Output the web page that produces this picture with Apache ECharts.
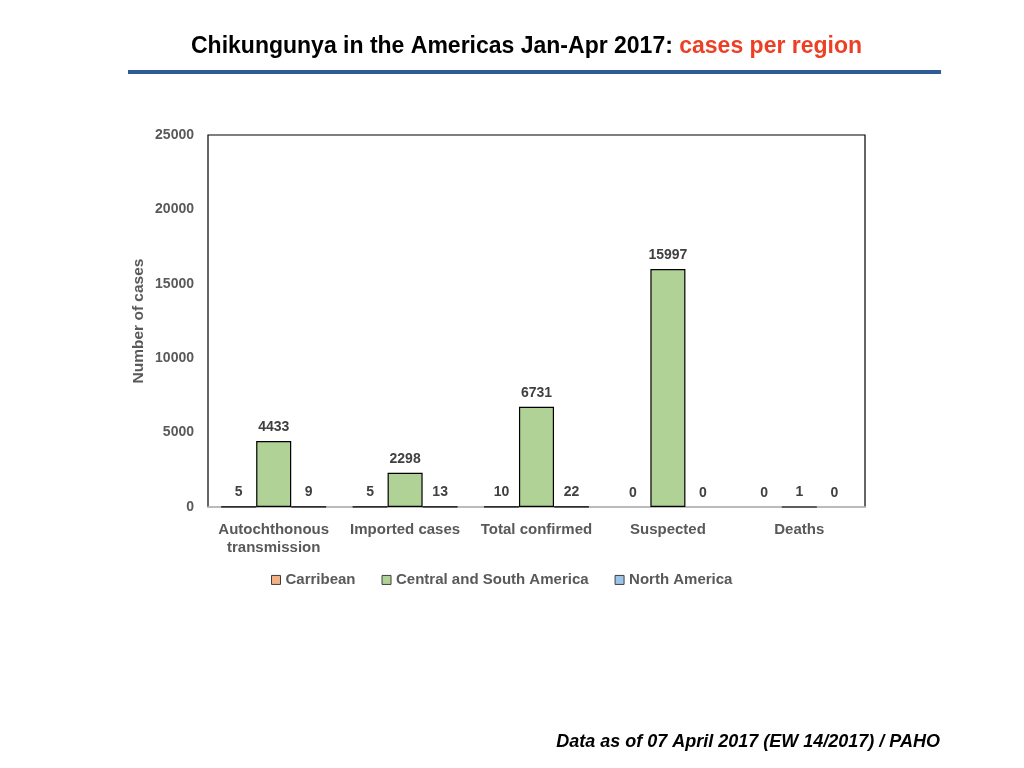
<!DOCTYPE html>
<html>
  <head>
    <title>Chikungunya in the Americas</title>
    <style>
      html, body {
        margin: 0;
        padding: 0;
        width: 100%;
        height: 100%;
        background: #fff;
      }
      #chart {
        width: 1024px;
        height: 768px;
      }
    </style>
  </head>
  <body>
    <div id="chart"></div>
    <script src="https://cdn.jsdelivr.net/npm/echarts@6/dist/echarts.min.js"></script>
    <script type="text/javascript">

      const categories = ['Autochthonous\ntransmission', 'Imported cases', 'Total confirmed', 'Suspected', 'Deaths'];
      const carribean = [5, 5, 10, 0, 0];
      const centralSouth = [4433, 2298, 6731, 15997, 1];
      const northAmerica = [9, 13, 22, 0, 0];

      const labelGray = '#595959';
      const font = '"Liberation Sans", Arial, sans-serif';

      // zero values get no outline, so nothing shows on the baseline
      const toItems = values => values.map(v => (
        v === 0 ? { value: v, itemStyle: { borderWidth: 0 } } : v
      ));

      const makeSeries = (name, values, color) => ({
        name: name,
        type: 'bar',
        data: toItems(values),
        barGap: '0%',
        barCategoryGap: '20%',
        itemStyle: { color: color, borderColor: '#000', borderWidth: 1.2 },
        label: {
          show: true,
          position: 'top',
          distance: 2,
          color: '#404040',
          fontFamily: font,
          fontWeight: 'bold',
          fontSize: 14
        }
      });

      const chart = echarts.init(document.getElementById('chart'));
      chart.setOption({
        animation: false,
        textStyle: { fontFamily: font },
        title: {
          left: 186,
          top: 22,
          text: '{a|Chikungunya in the Americas Jan-Apr 2017: }{b|cases per region}',
          textStyle: {
            rich: {
              a: { fontFamily: font, fontWeight: 'bold', fontSize: 23, color: '#000' },
              b: { fontFamily: font, fontWeight: 'bold', fontSize: 23, color: '#ec3f24' }
            }
          }
        },
        graphic: [
          {
            type: 'rect',
            shape: { x: 128, y: 70, width: 813, height: 4 },
            style: { fill: '#2d5c97' }
          },
          {
            type: 'text',
            right: 84,
            top: 727,
            style: {
              text: 'Data as of 07 April 2017 (EW 14/2017) / PAHO',
              fontFamily: font,
              fontWeight: 'bold',
              fontStyle: 'italic',
              fontSize: 18,
              fill: '#000'
            }
          }
        ],
        legend: {
          top: 562,
          left: 266,
          icon: 'rect',
          itemWidth: 9,
          itemHeight: 9,
          itemGap: 26,
          itemStyle: { borderColor: '#404040', borderWidth: 1 },
          textStyle: { color: labelGray, fontFamily: font, fontWeight: 'bold', fontSize: 15 },
          data: ['Carribean', 'Central and South America', 'North America']
        },
        grid: {
          left: 208,
          right: 159,
          top: 135,
          bottom: 261,
          show: true,
          borderColor: '#000',
          borderWidth: 1.2
        },
        xAxis: {
          type: 'category',
          data: categories,
          axisLine: { lineStyle: { color: '#d0d0d0', width: 1.5 } },
          axisTick: { show: false },
          axisLabel: {
            interval: 0,
            margin: 14,
            color: labelGray,
            fontFamily: font,
            fontWeight: 'bold',
            fontSize: 15,
            lineHeight: 18
          }
        },
        yAxis: {
          type: 'value',
          min: 0,
          max: 25000,
          interval: 5000,
          name: 'Number of cases',
          nameLocation: 'middle',
          nameGap: 56,
          nameMoveOverlap: false,
          nameTextStyle: { color: labelGray, fontFamily: font, fontWeight: 'bold', fontSize: 15.5 },
          splitLine: { show: false },
          axisLine: { show: false },
          axisTick: { show: false },
          axisLabel: {
            margin: 14,
            color: labelGray,
            fontFamily: font,
            fontWeight: 'bold',
            fontSize: 14,
            formatter: v => String(v)
          }
        },
        series: [
          makeSeries('Carribean', carribean, '#f4b183'),
          makeSeries('Central and South America', centralSouth, '#b1d296'),
          makeSeries('North America', northAmerica, '#9dc3e6')
        ]
      });
    </script>
  </body>
</html>
